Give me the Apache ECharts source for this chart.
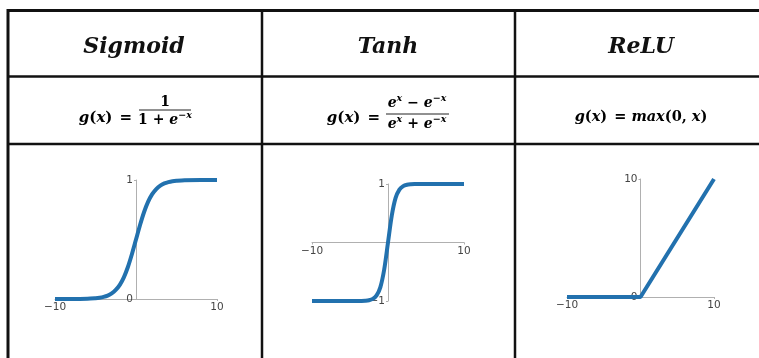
<!DOCTYPE html>
<html>
<head>
<meta charset="utf-8">
<script src="https://cdn.jsdelivr.net/npm/echarts@6/dist/echarts.min.js"></script>
<style>
  html, body { margin: 0; padding: 0; background: #fff; }
  #chart { width: 759px; height: 358px; }
</style>
</head>
<body>
<div id="chart"></div>
<script>
// Activation function curves: sampled x positions and their y values
const sampleX  = [-10, -8, -6, -5, -4.5, -4, -3.5, -3, -2.5, -2, -1.5, -1, -0.5, 0, 0.5, 1, 1.5, 2, 2.5, 3, 3.5, 4, 4.5, 5, 6, 8, 10];
const sigmoidY = [0.000, 0.000, 0.002, 0.007, 0.011, 0.018, 0.029, 0.047, 0.076, 0.119, 0.182, 0.269, 0.378, 0.500, 0.622, 0.731, 0.818, 0.881, 0.924, 0.953, 0.971, 0.982, 0.989, 0.993, 0.998, 1.000, 1.000];
const tanhY    = [-1.000, -1.000, -1.000, -1.000, -1.000, -0.999, -0.998, -0.995, -0.987, -0.964, -0.905, -0.762, -0.462, 0.000, 0.462, 0.762, 0.905, 0.964, 0.987, 0.995, 0.998, 0.999, 1.000, 1.000, 1.000, 1.000, 1.000];
const reluX    = [-10, 0, 10];
const reluY    = [0, 0, 10];

// Tick labels shown on each small plot
const xTicks       = [-10, 10];
const sigmoidTicks = [0, 1];
const tanhTicks    = [-1, 1];
const reluTicks    = [0, 10];

// Column titles
const titles = ['Sigmoid', 'Tanh', 'ReLU'];

const chart = echarts.init(document.getElementById('chart'), null, { renderer: 'canvas' });

const lineColor = '#2271ae';
const axisGray = '#b0b0b0';
const labelColor = '#444';
const minusFmt = v => (v < 0 ? '\u2212' + Math.abs(v) : String(v));

// plot boxes; the axes cross at the data origin, so each axis is shifted into the box
const boxes = [
  { left: 55,  top: 180, width: 162, height: 119, xShift: 0,     yShift: -81 },
  { left: 312, top: 184, width: 152, height: 117, xShift: -58.5, yShift: -76 },
  { left: 567, top: 179, width: 147, height: 118, xShift: 0,     yShift: -73.5 }
];

function makeX(i) {
  return {
    type: 'value', gridIndex: i, min: -10, max: 10, position: 'bottom', offset: boxes[i].xShift,
    axisLine: { onZero: false, lineStyle: { color: axisGray, width: 1 } },
    axisTick: { show: true, length: 2, customValues: xTicks, lineStyle: { color: axisGray } },
    axisLabel: { customValues: xTicks, formatter: minusFmt, color: labelColor, fontSize: 10.5, fontFamily: 'DejaVu Sans', margin: 3 },
    splitLine: { show: false }
  };
}
function makeY(i, min, max, ticks) {
  return {
    type: 'value', gridIndex: i, min: min, max: max, position: 'left', offset: boxes[i].yShift,
    axisLine: { onZero: false, lineStyle: { color: axisGray, width: 1 } },
    axisTick: { show: true, length: 2, customValues: ticks, lineStyle: { color: axisGray } },
    axisLabel: { customValues: ticks, formatter: minusFmt, color: labelColor, fontSize: 10.5, fontFamily: 'DejaVu Sans', margin: 3 },
    splitLine: { show: false }
  };
}

const italic = { fontFamily: 'DejaVu Serif', fontWeight: 'bold', fontStyle: 'italic', fill: '#111' };

function richSet(size, sup) {
  const base = { fontFamily: 'DejaVu Serif', fontWeight: 'bold', fontSize: size, lineHeight: 18, color: '#111' };
  return {
    i: Object.assign({}, base, { fontStyle: 'italic' }),
    n: base,
    e: Object.assign({}, base, { padding: [0, 0, 0, 7] }),
    s: Object.assign({}, base, { fontStyle: 'italic', fontSize: sup, verticalAlign: 'top' })
  };
}
const richMain = richSet(15, 10);
const richFrac = richSet(14, 9.5);

function rtext(x, y, text, rich, align) {
  return { type: 'text', x: x, y: y, z: 10,
    style: { text: text, rich: rich, align: align || 'center', verticalAlign: 'middle' } };
}
function hline(x1, x2, y, w) {
  return { type: 'line', z: 20, shape: { x1: x1, y1: y, x2: x2, y2: y }, style: { stroke: '#111', lineWidth: w } };
}
function vline(x, y1, y2, w) {
  return { type: 'line', z: 20, shape: { x1: x, y1: y1, x2: x, y2: y2 }, style: { stroke: '#111', lineWidth: w } };
}
function bar(x1, x2, y) {
  return { type: 'line', z: 10, shape: { x1: x1, y1: y, x2: x2, y2: y }, style: { stroke: '#222', lineWidth: 1 } };
}
function title(x, t) {
  return { type: 'text', x: x, y: 47, style: Object.assign({ text: t, fontSize: 22, align: 'center', verticalAlign: 'middle' }, italic) };
}

const gLeft = '{i|g}{n|(}{i|x}{n|)}{e|=}';

const graphics = [
  // table rules
  hline(7, 770, 10.5, 3),
  vline(8, 9, 360, 3),
  vline(262, 9, 360, 2.5),
  vline(515, 9, 360, 2.5),
  hline(7, 770, 76.5, 2.5),
  hline(7, 770, 144, 2.5),
  // header titles
  title(134, titles[0]),
  title(388, titles[1]),
  title(641, titles[2]),
  // sigmoid formula
  rtext(132, 118, gLeft, richMain, 'right'),
  rtext(165, 102, '{n|1}', richFrac),
  bar(139, 191, 110),
  rtext(165, 120, '{n|1 + }{i|e}{s|\u2212x}', richFrac),
  // tanh formula
  rtext(380, 118, gLeft, richMain, 'right'),
  rtext(417, 103, '{i|e}{s|x}{n| \u2212 }{i|e}{s|\u2212x}', richFrac),
  bar(386, 449, 114),
  rtext(417, 124, '{i|e}{s|x}{n| + }{i|e}{s|\u2212x}', richFrac),
  // relu formula
  rtext(641, 117, '{i|g}{n|(}{i|x}{n|)}{e|=}{n| }{i|max}{n|(0, }{i|x}{n|)}', richSet(14.5, 10))
];

const option = {
  backgroundColor: '#fff',
  animation: false,
  grid: boxes.map(b => ({ left: b.left, top: b.top, width: b.width, height: b.height, outerBoundsMode: 'none' })),
  xAxis: [makeX(0), makeX(1), makeX(2)],
  yAxis: [makeY(0, 0, 1, sigmoidTicks), makeY(1, -1, 1, tanhTicks), makeY(2, 0, 10, reluTicks)],
  series: [
    { type: 'line', xAxisIndex: 0, yAxisIndex: 0, data: sampleX.map((x, k) => [x, sigmoidY[k]]),
      smooth: 0.3, showSymbol: false, lineStyle: { color: lineColor, width: 4 } },
    { type: 'line', xAxisIndex: 1, yAxisIndex: 1, data: sampleX.map((x, k) => [x, tanhY[k]]),
      smooth: 0.3, showSymbol: false, lineStyle: { color: lineColor, width: 4 } },
    { type: 'line', xAxisIndex: 2, yAxisIndex: 2, data: reluX.map((x, k) => [x, reluY[k]]),
      showSymbol: false, lineStyle: { color: lineColor, width: 4 } }
  ],
  graphic: graphics
};

chart.setOption(option);
</script>
</body>
</html>
